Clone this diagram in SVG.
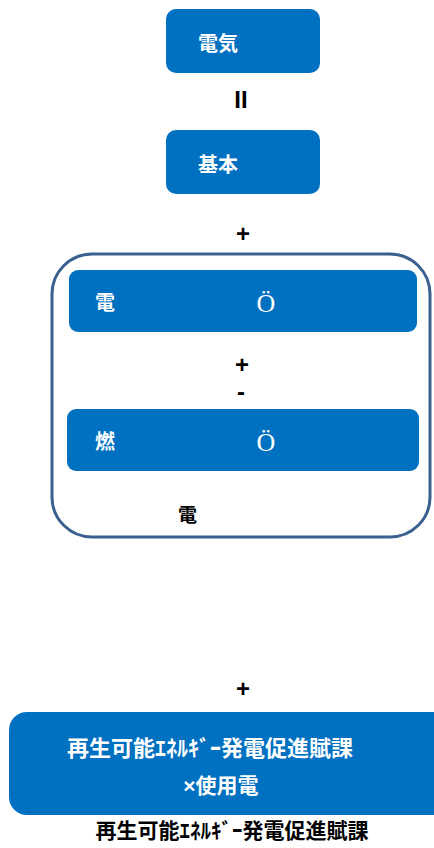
<svg xmlns="http://www.w3.org/2000/svg" width="434" height="848" viewBox="0 0 434 848">
<style>
.box{fill:#0070c0;}
.wt{fill:#fff;font-family:"Liberation Sans","Noto Sans CJK JP",sans-serif;font-weight:bold;}
.bt{fill:#000;font-family:"Liberation Sans","Noto Sans CJK JP",sans-serif;font-weight:bold;}
.oo{fill:#fff;font-family:"Liberation Serif",serif;font-size:26px;}
.op{fill:#000;font-family:"Liberation Sans",sans-serif;font-weight:bold;font-size:24px;text-anchor:middle;}
</style>
<rect width="434" height="848" fill="#fff"/>
<g id="connectors">
<text class="op" x="241" y="108" font-size="19">II</text>
<text class="op" x="243" y="242">+</text>
<text class="op" x="242" y="373">+</text>
<text class="op" x="241" y="400">-</text>
<text class="op" x="243" y="697">+</text>
</g>
<g id="n-denki">
<rect class="box" x="166" y="9" width="154" height="64" rx="10"/>
<text class="wt" x="198" y="51" font-size="20">電気</text>
</g>
<g id="n-kihon">
<rect class="box" x="166" y="130" width="154" height="64" rx="10"/>
<text class="wt" x="198" y="172" font-size="20">基本</text>
</g>
<g id="n-group">
<rect x="52" y="254" width="378" height="283" rx="40" fill="none" stroke="#3a6090" stroke-width="3"/>
<text class="bt" x="178" y="522" font-size="19">電</text>
</g>
<g id="n-den">
<rect class="box" x="69" y="270" width="348" height="62" rx="9"/>
<text class="wt" x="95" y="310" font-size="20">電</text>
<text class="oo" x="266" y="312" text-anchor="middle">Ö</text>
</g>
<g id="n-nen">
<rect class="box" x="67" y="409" width="352" height="62" rx="9"/>
<text class="wt" x="95" y="449" font-size="20">燃</text>
<text class="oo" x="266" y="451" text-anchor="middle">Ö</text>
</g>
<g id="n-fuka">
<rect class="box" x="9" y="712" width="445" height="103" rx="18"/>
<text class="wt" x="210" y="756" font-size="22" text-anchor="middle">再生可能ｴﾈﾙｷﾞｰ発電促進賦課</text>
<text class="wt" x="221" y="793" font-size="21" text-anchor="middle">×使用電</text>
</g>
<g id="label-bottom">
<text class="bt" x="232" y="838" font-size="21" text-anchor="middle">再生可能ｴﾈﾙｷﾞｰ発電促進賦課</text>
</g>
</svg>
